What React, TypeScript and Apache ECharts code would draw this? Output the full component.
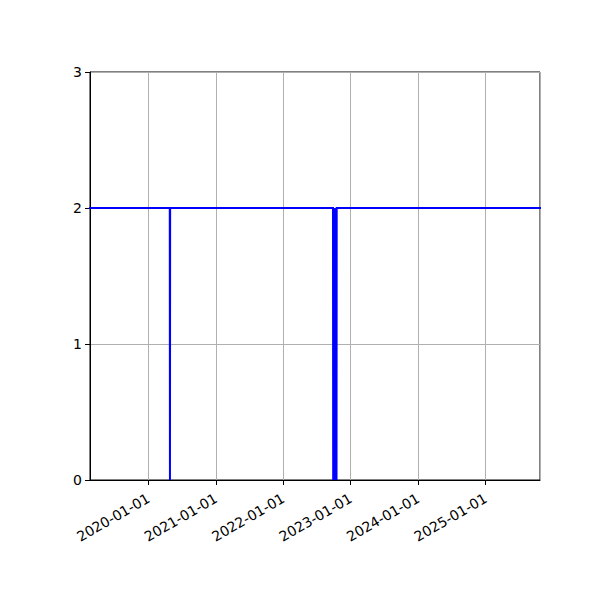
import { useEffect, useRef } from 'react'
import * as echarts from 'echarts'

// axis limits
const xMin = '2019-02-19'
const xMax = '2025-10-22'
const yTicks = [0, 1, 2, 3]

// series: dates and values of the line
const dates = [
  '2019-01-01',
  '2020-04-26',
  '2020-04-27',
  '2020-04-28',
  '2022-09-27',
  '2022-09-28',
  '2022-10-01',
  '2022-10-04',
  '2022-10-07',
  '2022-10-10',
  '2022-10-13',
  '2022-10-16',
  '2022-10-17',
  '2026-01-01'
]
const values = [2, 2, 0, 2, 2, 0, 2, 0, 2, 0, 2, 0, 2, 2]

const pad = (n: number) => (n < 10 ? '0' + n : '' + n)

export default function App(): JSX.Element {
  const chartRef = useRef<HTMLDivElement>(null)

  useEffect(() => {
    if (!chartRef.current) return
    const chart = echarts.init(chartRef.current, undefined, { renderer: 'svg' })

    const font = 'DejaVu Sans'
    const option: echarts.EChartsOption = {
      animation: false,
      backgroundColor: '#ffffff',
      grid: {
        left: 90,
        right: 60,
        top: 72,
        bottom: 120,
        show: true,
        borderColor: '#000000',
        borderWidth: 1,
        backgroundColor: 'transparent'
      },
      xAxis: {
        type: 'time',
        min: xMin,
        max: xMax,
        splitNumber: 6,
        minInterval: 360 * 24 * 3600 * 1000,
        axisLine: { lineStyle: { color: '#000000', width: 1 } },
        axisTick: { show: true, length: 5, lineStyle: { color: '#000000' } },
        splitLine: { show: true, lineStyle: { color: '#b0b0b0', width: 1 } },
        axisLabel: {
          rotate: 30,
          color: '#000000',
          fontFamily: font,
          fontSize: 14,
          margin: 17,
          showMinLabel: false,
          showMaxLabel: false,
          formatter: (v: number) => {
            const d = new Date(v)
            return d.getFullYear() + '-' + pad(d.getMonth() + 1) + '-' + pad(d.getDate())
          }
        }
      },
      yAxis: {
        type: 'value',
        min: yTicks[0],
        max: yTicks[yTicks.length - 1],
        interval: 1,
        axisLine: { show: true, lineStyle: { color: '#000000', width: 1 } },
        axisTick: { show: true, length: 5, lineStyle: { color: '#000000' } },
        splitLine: { show: true, lineStyle: { color: '#b0b0b0', width: 1 } },
        axisLabel: {
          color: '#000000',
          fontFamily: font,
          fontSize: 14,
          margin: 8
        }
      },
      series: [
        {
          type: 'line',
          data: dates.map((d, i) => [d, values[i]]),
          showSymbol: false,
          clip: true,
          lineStyle: { color: '#0000ff', width: 2, join: 'miter' },
          itemStyle: { color: '#0000ff' }
        }
      ]
    }

    chart.setOption(option)
    return () => {
      chart.dispose()
    }
  }, [])

  return (
    <div
      ref={chartRef}
      style={{ position: 'absolute', left: 0, top: 0, width: 600, height: 600 }}
    />
  )
}
